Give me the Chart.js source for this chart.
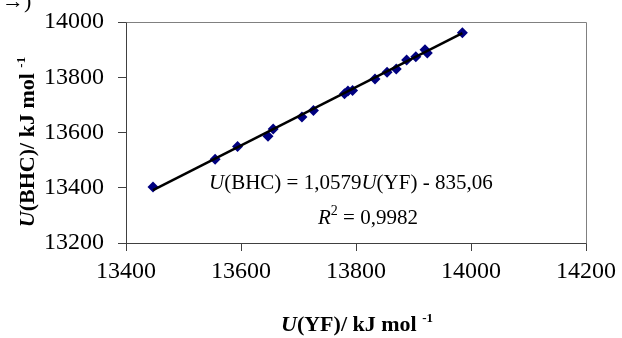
<!DOCTYPE html>
<html>
<head>
<meta charset="utf-8">
<script src="https://cdn.jsdelivr.net/npm/chart.js@4/dist/chart.umd.min.js"></script>
<style>
  html, body { margin: 0; padding: 0; background: #fff; }
  #wrap { width: 622px; height: 338px; position: relative; }
</style>
</head>
<body>
<div id="wrap"><canvas id="chart" width="622" height="338"></canvas></div>
<script>
// data (kJ/mol)
const yfValues  = [13447, 13555, 13594, 13647, 13656, 13706, 13726, 13780, 13786, 13794, 13833, 13854, 13870, 13888, 13904, 13920, 13924, 13985];
const bhcValues = [13403, 13503, 13549, 13586, 13613, 13656, 13680, 13740, 13750, 13752, 13794, 13818, 13830, 13862, 13874, 13900, 13888, 13961];
// trendline end points (U(BHC) = 1,0579U(YF) - 835,06)
const trendX = [13447, 13985];
const trendY = [13391, 13960];
const xTicks = [13400, 13600, 13800, 14000, 14200];
const yTicks = [13200, 13400, 13600, 13800, 14000];

const SERIF = "'Liberation Serif', 'Times New Roman', serif";

// draw a run of text pieces (italic / bold / superscript) one after another
function richWidth(ctx, parts){
  let w = 0;
  parts.forEach(p => { ctx.font = p.font; w += ctx.measureText(p.t).width; });
  return w;
}
function drawRich(ctx, parts, x, y, align){
  let cx = align === 'center' ? x - richWidth(ctx, parts) / 2 : x;
  ctx.textBaseline = 'alphabetic';
  ctx.textAlign = 'left';
  parts.forEach(p => {
    ctx.font = p.font;
    ctx.fillText(p.t, cx, y + (p.dy || 0));
    cx += ctx.measureText(p.t).width;
  });
}

const extras = {
  id: 'extras',
  beforeDatasetsDraw(chart){
    const {ctx, chartArea: a} = chart;
    ctx.save();
    ctx.strokeStyle = '#808080';
    ctx.lineWidth = 1;
    ctx.beginPath();
    ctx.moveTo(Math.round(a.left) + 0.5, Math.round(a.top) + 0.5);
    ctx.lineTo(Math.round(a.right) + 0.5, Math.round(a.top) + 0.5);
    ctx.lineTo(Math.round(a.right) + 0.5, Math.round(a.bottom) + 0.5);
    ctx.stroke();
    ctx.restore();
  },
  afterDraw(chart){
    const ctx = chart.ctx;
    ctx.save();
    ctx.fillStyle = '#000';

    // fragment of a label cut off at the top-left
    ctx.font = '22px ' + SERIF;
    ctx.textBaseline = 'alphabetic';
    ctx.fillText('\u2192)', 2, 8);

    // regression text
    const n = '21px ' + SERIF, it = 'italic 21px ' + SERIF;
    drawRich(ctx, [
      {t: 'U', font: it}, {t: '(BHC) = 1,0579', font: n},
      {t: 'U', font: it}, {t: '(YF) - 835,06', font: n}
    ], 209, 189, 'left');
    drawRich(ctx, [
      {t: 'R', font: it}, {t: '2', font: '14px ' + SERIF, dy: -9},
      {t: ' = 0,9982', font: n}
    ], 318, 224, 'left');

    // axis titles
    const b = 'bold 22px ' + SERIF, bi = 'italic bold 22px ' + SERIF, sup = 'bold 13px ' + SERIF;
    drawRich(ctx, [
      {t: 'U', font: bi}, {t: '(YF)/ kJ mol ', font: b}, {t: '-1', font: sup, dy: -9}
    ], 357, 331, 'center');

    ctx.translate(27, 142);
    ctx.rotate(-Math.PI / 2);
    drawRich(ctx, [
      {t: 'U', font: bi}, {t: '(BHC)/ kJ mol ', font: b}, {t: '-1', font: sup, dy: -9}
    ], 0, 7, 'center');
    ctx.restore();
  }
};

const tickFont = {family: SERIF, size: 24};
const plain = v => String(v);

new Chart(document.getElementById('chart').getContext('2d'), {
  type: 'scatter',
  data: {
    datasets: [
      {
        type: 'line',
        data: trendX.map((x, i) => ({x, y: trendY[i]})),
        borderColor: '#000',
        borderWidth: 2.5,
        pointRadius: 0,
        fill: false,
        order: 0
      },
      {
        data: yfValues.map((x, i) => ({x, y: bhcValues[i]})),
        pointStyle: 'rectRot',
        pointRadius: 5.5,
        backgroundColor: '#000080',
        borderColor: '#000080',
        borderWidth: 0,
        order: 1
      }
    ]
  },
  options: {
    responsive: false,
    animation: false,
    events: [],
    layout: {padding: {left: 0, top: 22, right: 36, bottom: 0}},
    plugins: {legend: {display: false}, tooltip: {enabled: false}},
    scales: {
      x: {
        type: 'linear',
        min: 13400, max: 14200,
        afterBuildTicks: s => { s.ticks = xTicks.map(v => ({value: v})); },
        afterFit: s => { s.height = 95; s.paddingLeft = 0; s.paddingRight = 0; },
        border: {display: true, color: '#404040', width: 1},
        grid: {drawOnChartArea: false, drawTicks: true, tickLength: 8, color: '#404040'},
        ticks: {font: tickFont, color: '#000', padding: 6, maxRotation: 0, autoSkip: false, callback: plain}
      },
      y: {
        type: 'linear',
        min: 13200, max: 14000,
        afterBuildTicks: s => { s.ticks = yTicks.map(v => ({value: v})); },
        afterFit: s => { s.width = 126; s.paddingTop = 0; s.paddingBottom = 0; },
        border: {display: true, color: '#404040', width: 1},
        grid: {drawOnChartArea: false, drawTicks: true, tickLength: 8, color: '#404040'},
        ticks: {font: tickFont, color: '#000', padding: 14, autoSkip: false, callback: plain}
      }
    }
  },
  plugins: [extras]
});
</script>
</body>
</html>
